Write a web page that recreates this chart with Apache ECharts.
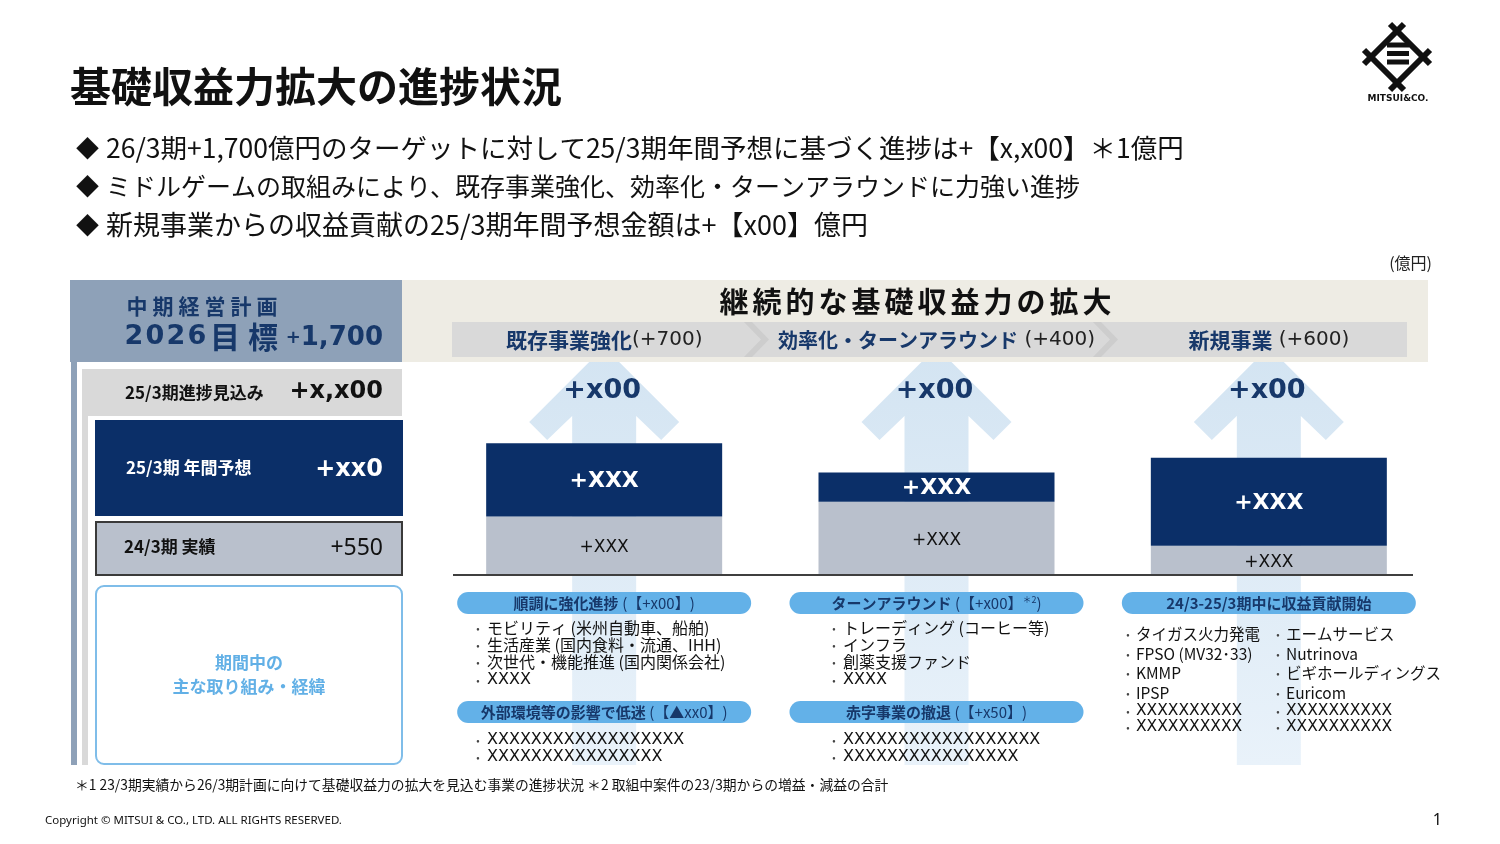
<!DOCTYPE html>
<html lang="ja"><head><meta charset="utf-8">
<script src="https://cdn.jsdelivr.net/npm/echarts@6/dist/echarts.min.js"></script>
<style>html,body{margin:0;padding:0;background:#fff;}#main{width:1500px;height:844px;}</style>
</head><body><div id="main"></div>
<script>
// ---------- data ----------
const categories = ['既存事業強化', '効率化・ターンアラウンド', '新規事業'];
const categoryTargets = ['(+700)', ' (+400)', ' (+600)'];
const actual24 = [200, 250, 100];     // 24/3期 実績 (億円, 推定)
const forecast25 = [250, 100, 300];   // 25/3期 年間予想 (億円, 推定)
const progressLabels = ['+x00', '+x00', '+x00'];
const actualLabels = ['+XXX', '+XXX', '+XXX'];
const forecastLabels = ['+XXX', '+XXX', '+XXX'];
const bulletLines = [
  '26/3期+1,700億円のターゲットに対して25/3期年間予想に基づく進捗は+【x,x00】＊1億円',
  'ミドルゲームの取組みにより、既存事業強化、効率化・ターンアラウンドに力強い進捗',
  '新規事業からの収益貢献の25/3期年間予想金額は+【x00】億円'
];
const list1 = ['モビリティ (米州自動車、船舶)', '生活産業 (国内食料・流通、IHH)', '次世代・機能推進 (国内関係会社)', 'XXXX'];
const list2 = ['XXXXXXXXXXXXXXXXXX', 'XXXXXXXXXXXXXXXX'];
const list3 = ['トレーディング (コーヒー等)', 'インフラ', '創薬支援ファンド', 'XXXX'];
const list4 = ['XXXXXXXXXXXXXXXXXX', 'XXXXXXXXXXXXXXXX'];
const list5a = ['タイガス火力発電', 'FPSO (MV32･33)', 'KMMP', 'IPSP', 'XXXXXXXXXX', 'XXXXXXXXXX'];
const list5b = ['エームサービス', 'Nutrinova', 'ビギホールディングス', 'Euricom', 'XXXXXXXXXX', 'XXXXXXXXXX'];

// ---------- styles ----------
const FJ = '"Noto Sans CJK JP", "Noto Sans", sans-serif';
const FL = '"DejaVu Sans", "Noto Sans CJK JP", sans-serif';
const FN = '"Noto Sans", "Noto Sans CJK JP", sans-serif';
const NAVY = '#0b2f68';
const TNAVY = '#17386a';

const chart = echarts.init(document.getElementById('main'), null, {renderer: 'canvas', width: 1500, height: 844});
chart.setOption({
  animation: false,
  textStyle: {fontFamily: FJ},
  grid: {left: 438, top: 370, width: 997, height: 205, containLabel: false},
  xAxis: {type: 'category', data: categories, show: false},
  yAxis: {type: 'value', min: 0, max: 700, show: false},
  series: [
    {name: '24/3期 実績', type: 'bar', stack: 'total', data: actual24, barWidth: 236, z: 2,
     itemStyle: {color: '#b9c0cc'},
     label: {show: true, position: 'inside', offset: [0, 2], formatter: p => actualLabels[p.dataIndex], color: '#111', fontFamily: FL, fontSize: 17}},
    {name: '25/3期 年間予想', type: 'bar', stack: 'total', data: forecast25, barWidth: 236, z: 2,
     itemStyle: {color: NAVY},
     label: {show: true, position: 'inside', offset: [0, 1], formatter: p => forecastLabels[p.dataIndex], color: '#fff', fontFamily: FL, fontWeight: 'bold', fontSize: 22}}
  ]
});

// ---------- helpers ----------
function txt(x, y, text, o) {
  o = o || {};
  const st = {text: text, fill: o.color || '#111', fontSize: o.size || 16, fontWeight: o.weight || 'normal',
    fontFamily: o.family || FJ, align: o.align || 'left', verticalAlign: 'middle'};
  if (o.rich) st.rich = o.rich;
  return {type: 'text', x: x, y: y, z: o.z != null ? o.z : 10, silent: true, style: st};
}
function rect(x, y, w, h, fill, o) {
  o = o || {};
  return {type: 'rect', z: o.z != null ? o.z : 5, silent: true, shape: {x: x, y: y, width: w, height: h, r: o.r || 0},
    style: {fill: fill, stroke: o.stroke || null, lineWidth: o.lw || 0}};
}
function poly(points, fill, z) { return {type: 'polygon', z: z, silent: true, shape: {points: points}, style: {fill: fill}}; }
function seg(x1, y1, x2, y2, stroke, lw, z) { return {type: 'line', z: z, silent: true, shape: {x1: x1, y1: y1, x2: x2, y2: y2}, style: {stroke: stroke, lineWidth: lw}}; }
function spaced(str, centers, y, o) { return Array.from(str).map((c, i) => txt(centers[i], y, c, Object.assign({align: 'center'}, o))); }

const xs = categories.map((c, i) => chart.convertToPixel({xAxisIndex: 0}, i));
const g = [];

// title & bullets
g.push(txt(70, 86, '基礎収益力拡大の進捗状況', {size: 41, weight: 'bold'}));
const bulletSizes = [26.5, 25, 27];
[148, 186, 225].forEach((y, i) => {
  g.push(txt(76, y, '◆', {size: 23}));
  g.push(txt(106, y, bulletLines[i], {size: bulletSizes[i]}));
});

// logo
const LC = '#111';
g.push(seg(1364, 64, 1404, 24, LC, 6, 10));
g.push(seg(1390, 24, 1430, 64, LC, 6, 10));
g.push(seg(1430, 50, 1390, 90, LC, 6, 10));
g.push(seg(1404, 90, 1364, 50, LC, 6, 10));
g.push(rect(1387, 42.5, 22, 5, LC, {z: 10}));
g.push(rect(1387, 51, 22, 5, LC, {z: 10}));
g.push(rect(1387, 59.5, 22, 5, LC, {z: 10}));
g.push(txt(1398, 99, 'MITSUI&CO.', {size: 9, weight: 'bold', family: FL, align: 'center'}));

// unit
g.push(txt(1432, 263, '(億円)', {size: 16, align: 'right', color: '#222'}));

// left panel
g.push(rect(70, 280, 332, 82, '#8ea1b8'));
g.push(rect(71, 362, 6, 403, '#8ea1b8'));
g.push(rect(82, 369, 320, 47, '#d9d9d9'));
g.push(rect(82, 416, 6, 349, '#d9d9d9'));
g.push(rect(95, 420, 308, 96, NAVY));
g.push(rect(96, 522, 306, 53, '#b9c0cc', {stroke: '#3a3a3a', lw: 2}));
g.push(rect(96, 586, 306, 178, '#ffffff', {stroke: '#7fbde9', lw: 2, r: 8}));
g.push(...spaced('中期経営計画', [137, 163, 189, 215, 241, 267], 306, {size: 21, weight: 'bold', color: TNAVY}));
g.push(...spaced('2026', [134, 155, 176, 197], 337, {size: 27, weight: 'bold', color: TNAVY, family: FL}));
g.push(...spaced('目標', [225, 263], 337, {size: 30, weight: 'bold', color: TNAVY}));
g.push(txt(383, 338, '{p|+}{n|1,700}', {align: 'right', color: TNAVY, rich: {
  p: {fontSize: 18, fontWeight: 'bold', fontFamily: FL, fill: TNAVY},
  n: {fontSize: 26, fontWeight: 'bold', fontFamily: FL, fill: TNAVY}}}));
g.push(txt(125, 393, '25/3期進捗見込み', {size: 17, weight: 'bold'}));
g.push(txt(383, 392, '+x,x00', {size: 24, weight: 'bold', family: FL, align: 'right'}));
g.push(txt(126, 468, '25/3期 年間予想', {size: 17, weight: 'bold', color: '#fff'}));
g.push(txt(383, 470, '+xx0', {size: 24, weight: 'bold', family: FL, align: 'right', color: '#fff'}));
g.push(txt(124, 547, '24/3期 実績', {size: 17, weight: 'bold'}));
g.push(txt(383, 548, '+550', {size: 23, family: FN, align: 'right'}));
g.push(txt(249, 663, '期間中の', {size: 17, weight: 'bold', color: '#62b0e6', align: 'center'}));
g.push(txt(249, 687, '主な取り組み・経緯', {size: 17, weight: 'bold', color: '#62b0e6', align: 'center'}));

// header band
g.push(rect(402, 280, 1026, 82, '#eeece4'));
g.push(...spaced('継続的な基礎収益力の拡大', Array.from({length: 12}, (_, i) => 734 + i * 33), 302, {size: 29, weight: 'bold'}));
g.push(rect(452, 322, 955, 35, '#d9d9d9', {z: 6}));
[744, 1093].forEach(x0 => {
  g.push(poly([[x0, 322], [x0 + 8, 322], [x0 + 25, 339.5], [x0 + 8, 357], [x0, 357], [x0 + 17, 339.5]], '#cdcdcd', 7));
});
const subBold = [21, 20, 21];
categories.forEach((c, i) => {
  g.push(txt(xs[i], 340, '{b|' + c + '}{n|' + categoryTargets[i] + '}', {align: 'center', rich: {
    b: {fontSize: subBold[i], fontWeight: 'bold', fontFamily: FJ, fill: TNAVY},
    n: {fontSize: 20, fontFamily: FL, fill: '#222'}}}));
});

// arrows
xs.forEach(cx => {
  g.push({type: 'polygon', z: 1, silent: true, shape: {points: [
    [cx, 347], [cx + 75, 422], [cx + 57, 440], [cx + 32, 416], [cx + 32, 765],
    [cx - 32, 765], [cx - 32, 416], [cx - 57, 440], [cx - 75, 422]]},
    style: {fill: new echarts.graphic.LinearGradient(0, 0, 0, 1, [{offset: 0, color: '#d3e4f2'}, {offset: 1, color: '#e9f2fa'}])}});
});
xs.forEach((cx, i) => g.push(txt(cx - 2, 391, progressLabels[i], {size: 27, weight: 'bold', family: FL, color: TNAVY, align: 'center'})));

// baseline
g.push(seg(453, 575, 1413, 575, '#3f3f3f', 2, 8));

// pills
const PILL = '#63b1e8';
function pill(cx, y, rich) {
  g.push(rect(cx - 147, y, 294, 22, PILL, {r: 11, z: 6}));
  g.push(txt(cx, y + 11, rich, {align: 'center', z: 11, rich: {
    b: {fontSize: 15, fontWeight: 'bold', fontFamily: FJ, fill: TNAVY},
    n: {fontSize: 15, fontFamily: FJ, fill: TNAVY},
    s: {fontSize: 9, fontFamily: FJ, fill: TNAVY, verticalAlign: 'top'}}}));
}
pill(xs[0], 592, '{b|順調に強化進捗} {n|(【+x00】)}');
pill(xs[0], 701, '{b|外部環境等の影響で低迷} {n|(【▲xx0】)}');
pill(xs[1], 592, '{b|ターンアラウンド} {n|(【+x00】}{s|＊2}{n|)}');
pill(xs[1], 701, '{b|赤字事業の撤退} {n|(【+x50】)}');
pill(xs[2], 592, '{b|24/3-25/3期中に収益貢献開始}');

function list(items, bx, tx, ys, size) {
  items.forEach((s, i) => {
    g.push(txt(bx, ys[i], '•', {size: 10, color: '#444', align: 'center'}));
    const isX = /^X+$/.test(s);
    g.push(txt(tx, ys[i], s, {size: size || 16, family: isX ? FL : FJ}));
  });
}
list(list1, 478, 487, [628, 645, 662, 680]);
list(list2, 478, 487, [740, 757]);
list(list3, 834, 843, [628, 645, 662, 680]);
list(list4, 834, 843, [740, 757]);
list(list5a, 1128, 1136, [634, 654, 673, 693, 711, 727], 15.5);
list(list5b, 1278, 1286, [634, 654, 673, 693, 711, 727], 15.5);

// footnotes
g.push(txt(75, 785, '＊1 23/3期実績から26/3期計画に向けて基礎収益力の拡大を見込む事業の進捗状況 ＊2 取組中案件の23/3期からの増益・減益の合計', {size: 13.8}));
g.push(txt(45, 821, 'Copyright © MITSUI & CO., LTD. ALL RIGHTS RESERVED.', {size: 11.5, family: FN}));
g.push(txt(1442, 820, '1', {size: 16, align: 'right', family: FN}));

chart.setOption({graphic: {elements: g}});
</script>
</body></html>
